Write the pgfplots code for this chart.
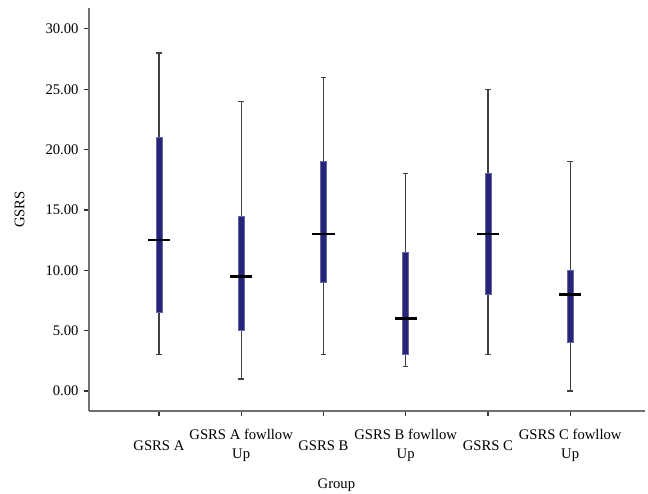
\documentclass[border=0pt]{standalone}
\usepackage{pgfplots}
\pgfplotsset{compat=1.18}
\usepgfplotslibrary{statistics}
\usepackage{fontspec}
\setmainfont{Liberation Serif}
\definecolor{boxnavy}{HTML}{25257A}
\definecolor{axisgray}{HTML}{707070}
\begin{document}
\fontsize{11pt}{13pt}\selectfont
\begin{tikzpicture}
\begin{axis}[
  scale only axis, width=417pt, height=302.25pt,
  xmin=-0.85, xmax=5.91, ymin=-1.66, ymax=31.73,
  axis x line*=bottom, axis y line*=left,
  x axis line style={-, draw=axisgray, line width=1pt},
  y axis line style={-, draw=axisgray, line width=1pt},
  tick align=outside, major tick length=4pt,
  tick style={draw=black!80, line width=0.9pt},
  xtick={0,1,2,3,4,5},
  xticklabels={{GSRS A},{GSRS A fowllow\\Up},{GSRS B},{GSRS B fowllow\\Up},{GSRS C},{GSRS C fowllow\\Up}},
  xticklabel style={align=center, anchor=center, yshift=-22pt, font=\fontsize{11pt}{14pt}\selectfont},
  ytick={0,5,10,15,20,25,30},
  yticklabel style={font=\fontsize{11pt}{13pt}\selectfont, /pgf/number format/fixed, /pgf/number format/fixed zerofill, /pgf/number format/precision=2, /pgf/number format/assume math mode=true},
  xlabel={Group}, ylabel={GSRS},
  every axis x label/.style={at={(axis description cs:0.445,0)}, anchor=center, yshift=-56pt, font=\fontsize{11pt}{13pt}\selectfont},
  every axis y label/.style={at={(axis description cs:0,0.5)}, rotate=90, anchor=center, yshift=52pt, font=\fontsize{11pt}{13pt}\selectfont},
  boxplot/draw direction=y,
  boxplot/box extend=0.075,
  boxplot/whisker extend=0.065,
  boxplot/every box/.style={draw=boxnavy!70!white, fill=boxnavy, line width=0.4pt},
  boxplot/every whisker/.style={draw=black!75, line width=0.9pt},
  boxplot/every median/.style={draw=black, line width=1.8pt},
  boxplot/draw/median/.code={%
    \draw[/pgfplots/boxplot/every median/.try]
      (boxplot box cs:\pgfplotsboxplotvalue{median},-1.3) --
      (boxplot box cs:\pgfplotsboxplotvalue{median},2.3);
  },
]
\coordinate (bl) at (rel axis cs:0,0);
\addplot[boxplot prepared={draw position=0, lower whisker=3, lower quartile=6.5, median=12.5, upper quartile=21, upper whisker=28}] coordinates {};
\addplot[boxplot prepared={draw position=1, lower whisker=1, lower quartile=5, median=9.5, upper quartile=14.5, upper whisker=24}] coordinates {};
\addplot[boxplot prepared={draw position=2, lower whisker=3, lower quartile=9, median=13, upper quartile=19, upper whisker=26}] coordinates {};
\addplot[boxplot prepared={draw position=3, lower whisker=2, lower quartile=3, median=6, upper quartile=11.5, upper whisker=18}] coordinates {};
\addplot[boxplot prepared={draw position=4, lower whisker=3, lower quartile=8, median=13, upper quartile=18, upper whisker=25}] coordinates {};
\addplot[boxplot prepared={draw position=5, lower whisker=0, lower quartile=4, median=8, upper quartile=10, upper whisker=19}] coordinates {};
\end{axis}
\pgfresetboundingbox
\path (bl) ++(-66.75pt,-61.5pt) rectangle ++(486pt,369.75pt);
\end{tikzpicture}
\end{document}
